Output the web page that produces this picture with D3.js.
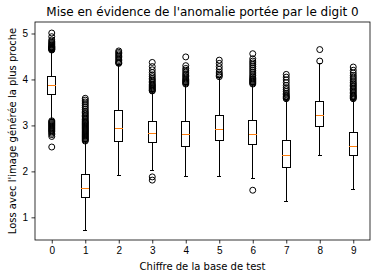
<!DOCTYPE html>
<html>
<head>
<meta charset="utf-8">
<script src="https://cdn.jsdelivr.net/npm/d3@7"></script>
<style>
  html, body { margin: 0; padding: 0; background: #fff; }
  svg { display: block; font-family: "DejaVu Sans", sans-serif; }
  .tick text { font-size: 10px; fill: #000; }
  .box line, .box rect { shape-rendering: crispEdges; }
</style>
</head>
<body>
<svg id="chart" width="380" height="278"></svg>
<script>
(function () {
  "use strict";

  const digits = [0, 1, 2, 3, 4, 5, 6, 7, 8, 9];
  const yTicks = [1, 2, 3, 4, 5];
  // box stats: lower whisker, q1, median, q3, upper whisker
  const whiskerLow = [3.12, 0.72, 1.90, 2.02, 1.89, 1.88, 1.85, 1.35, 2.35, 1.61];
  const q1 = [3.67, 1.43, 2.65, 2.63, 2.54, 2.67, 2.59, 2.09, 2.98, 2.35];
  const medians = [3.87, 1.63, 2.93, 2.83, 2.80, 2.91, 2.80, 2.35, 3.21, 2.54];
  const q3 = [4.06, 1.93, 3.33, 3.09, 3.09, 3.21, 3.11, 2.67, 3.52, 2.85];
  const whiskerHigh = [4.62, 2.64, 4.33, 3.73, 3.89, 4.04, 3.89, 3.57, 4.35, 3.57];
  const outliers = [
    [5.01, 4.93, 4.86, 4.83, 4.80, 4.78, 4.76, 4.74, 4.72, 4.71, 4.70, 4.69, 4.68, 4.67, 4.66, 4.65, 4.64,
     3.10, 3.08, 3.06, 3.04, 3.02, 3.00, 2.98, 2.96, 2.94, 2.92, 2.90, 2.88, 2.86, 2.83, 2.80, 2.76, 2.53],
    [3.59, 3.55, 3.51, 3.47, 3.43, 3.39, 3.35, 3.31, 3.28, 3.25, 3.22, 3.19, 3.16, 3.13, 3.10, 3.08, 3.06,
     3.04, 3.02, 3.00, 2.98, 2.96, 2.94, 2.92, 2.90, 2.88, 2.86, 2.84, 2.82, 2.80, 2.78, 2.76, 2.74, 2.72,
     2.70, 2.68, 2.66],
    [4.62, 4.59, 4.56, 4.53, 4.50, 4.47, 4.44, 4.41, 4.38, 4.36, 4.35],
    [4.37, 4.28, 4.21, 4.15, 4.10, 4.06, 4.02, 3.99, 3.96, 3.93, 3.90, 3.88, 3.86, 3.84, 3.82, 3.80, 3.78,
     3.76, 3.75, 1.88, 1.81],
    [4.49, 4.30, 4.24, 4.20, 4.16, 4.12, 4.09, 4.06, 4.03, 4.00, 3.98, 3.96, 3.94, 3.92, 3.90],
    [4.42, 4.35, 4.28, 4.22, 4.16, 4.12, 4.09, 4.06],
    [4.56, 4.45, 4.40, 4.36, 4.32, 4.28, 4.24, 4.20, 4.16, 4.12, 4.08, 4.05, 4.02, 4.00, 3.98, 3.96, 3.94,
     3.92, 3.90, 1.59],
    [4.11, 4.05, 3.99, 3.93, 3.87, 3.82, 3.78, 3.74, 3.70, 3.67, 3.64, 3.62, 3.60, 3.58],
    [4.65, 4.40],
    [4.27, 4.20, 4.14, 4.09, 4.05, 4.01, 3.97, 3.93, 3.90, 3.87, 3.84, 3.81, 3.78, 3.75, 3.72, 3.69, 3.66,
     3.64, 3.62, 3.60, 3.58]
  ];

  const svg = d3.select("#chart");
  const margin = { top: 22, right: 10, bottom: 38, left: 35 };
  const width = 380 - margin.left - margin.right;
  const height = 278 - margin.top - margin.bottom;

  const x = d3.scaleLinear().domain([-0.5, 9.5]).range([0, width]);
  const y = d3.scaleLinear().domain([0.507, 5.25]).range([height, 0]);
  const boxW = x(0.25) - x(0);
  const capW = boxW / 2;

  const g = svg.append("g").attr("transform", `translate(${margin.left},${margin.top})`);

  const boxes = g.selectAll(".box")
    .data(digits)
    .join("g")
    .attr("class", "box")
    .attr("transform", d => `translate(${x(d)},0)`);

  boxes.append("line")
    .attr("y1", i => y(q1[i])).attr("y2", i => y(whiskerLow[i]))
    .attr("stroke", "#000");
  boxes.append("line")
    .attr("y1", i => y(q3[i])).attr("y2", i => y(whiskerHigh[i]))
    .attr("stroke", "#000");
  boxes.append("line")
    .attr("x1", -capW / 2).attr("x2", capW / 2)
    .attr("y1", i => y(whiskerLow[i])).attr("y2", i => y(whiskerLow[i]))
    .attr("stroke", "#000");
  boxes.append("line")
    .attr("x1", -capW / 2).attr("x2", capW / 2)
    .attr("y1", i => y(whiskerHigh[i])).attr("y2", i => y(whiskerHigh[i]))
    .attr("stroke", "#000");
  boxes.append("rect")
    .attr("x", -boxW / 2).attr("width", boxW)
    .attr("y", i => y(q3[i]))
    .attr("height", i => y(q1[i]) - y(q3[i]))
    .attr("fill", "none").attr("stroke", "#000");
  boxes.append("line")
    .attr("x1", -boxW / 2).attr("x2", boxW / 2)
    .attr("y1", i => y(medians[i])).attr("y2", i => y(medians[i]))
    .attr("stroke", "#ff7f0e");

  boxes.selectAll("circle")
    .data(i => outliers[i])
    .join("circle")
    .attr("r", 3)
    .attr("cy", v => y(v))
    .attr("fill", "none")
    .attr("stroke", "#000")
    .attr("stroke-width", 1);

  const xAxis = g.append("g")
    .attr("transform", `translate(0,${height})`)
    .call(d3.axisBottom(x).tickValues(digits).tickSize(3.5).tickPadding(3.5).tickFormat(d3.format("d")));
  const yAxis = g.append("g")
    .call(d3.axisLeft(y).tickValues(yTicks).tickSize(3.5).tickPadding(3.5).tickFormat(d3.format("d")));
  [xAxis, yAxis].forEach(a => {
    a.select(".domain").remove();
    a.selectAll(".tick line").attr("stroke", "#000").attr("stroke-width", 0.8);
  });

  g.append("rect")
    .attr("width", width).attr("height", height)
    .attr("fill", "none").attr("stroke", "#000").attr("stroke-width", 0.8);

  svg.append("text")
    .attr("x", margin.left + width / 2).attr("y", 16)
    .attr("text-anchor", "middle")
    .attr("font-size", 12)
    .text("Mise en évidence de l'anomalie portée par le digit 0");

  svg.append("text")
    .attr("x", margin.left + width / 2).attr("y", 270)
    .attr("text-anchor", "middle")
    .attr("font-size", 10)
    .text("Chiffre de la base de test");

  svg.append("text")
    .attr("transform", `translate(16,${margin.top + height / 2}) rotate(-90)`)
    .attr("text-anchor", "middle")
    .attr("font-size", 10)
    .text("Loss avec l'image générée la plus proche");
})();
</script>
</body>
</html>
